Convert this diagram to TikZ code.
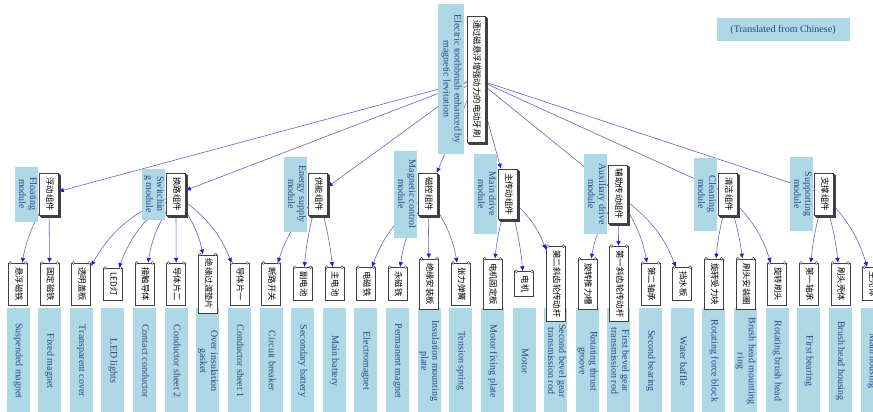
\documentclass[tikz,border=0pt]{standalone}
\usepackage{fontspec}
\setmainfont{Liberation Serif}
\newfontfamily\cjk{Noto Sans CJK SC}
\usetikzlibrary{positioning}
\usetikzlibrary{arrows.meta}
\usetikzlibrary{shadows}
\usetikzlibrary{backgrounds}
\definecolor{lnblue}{RGB}{100,100,205}
\definecolor{tipblue}{RGB}{25,25,230}
\definecolor{tagfill}{RGB}{173,216,230}
\definecolor{tagtext}{RGB}{40,70,135}
\newcommand{\vt}[1]{\rotatebox{-90}{\begin{tabular}{@{}c@{}}#1\end{tabular}}}
\tikzset{
entag/.style={
  rectangle,
  inner sep=0pt,
  minimum width=23pt,
  fill=tagfill,
  text=tagtext,
  font=\fontsize{10}{11}\selectfont
  },
cnbox/.style={
  rectangle,
  inner xsep=0pt,
  inner ysep=4pt,
  minimum width=19pt,
  draw=black!75,
  fill=white,
  font=\cjk\fontsize{8.4}{9}\selectfont
  },
cnstack/.style={
  cnbox,
  copy shadow={shadow xshift=2pt,shadow yshift=-2pt,draw=black!75,fill=white},
  copy shadow={shadow xshift=1pt,shadow yshift=-1pt,draw=black!75,fill=white}
  },
knob/.style={-,draw=black!75,fill=white,thin},
link/.style={draw=lnblue,semithick}
}

\begin{document}
\begin{tikzpicture}[x=1pt,y=1pt,->,>={Latex[length=5pt,width=4.5pt,color=tipblue]},semithick]
    \useasboundingbox (0,0) rectangle (873,-412);
    % top
    \node[cnstack,minimum width=18pt] (root) at (476,-79) {\vt{通过磁悬浮增强动力的电动牙刷}};
    \node[entag,minimum width=26pt,minimum height=149pt] (rootcap) [left=2pt of root] {\vt{Electric toothbrush enhanced by\\magnetic levitation}};
    \node[entag,minimum width=133pt,minimum height=23pt] (note) at (783,-30) {(Translated from Chinese)};
    % modules
    \node[cnstack] (m1) at (49,-194) {\vt{浮动组件}};
    \node[entag,minimum height=55pt] (mc1) [left=0.5pt of m1] {\vt{Floating\\module}};
    \node[cnstack] (m2) at (176,-194) {\vt{换路组件}};
    \node[entag,minimum height=51pt] (mc2) [left=0.5pt of m2] {\vt{Switchin\\g module}};
    \node[cnstack] (m3) at (318,-194) {\vt{供能组件}};
    \node[entag,minimum height=75pt] (mc3) [left=0.5pt of m3] {\vt{Energy supply\\module}};
    \node[cnstack] (m4) at (428,-194) {\vt{磁控组件}};
    \node[entag,minimum height=87pt] (mc4) [left=0.5pt of m4] {\vt{Magnetic control\\module}};
    \node[cnstack] (m5) at (508,-194) {\vt{主传动组件}};
    \node[entag,minimum height=80pt] (mc5) [left=0.5pt of m5] {\vt{Main drive\\module}};
    \node[cnstack] (m6) at (618,-194) {\vt{辅助传动组件}};
    \node[entag,minimum height=80pt] (mc6) [left=0.5pt of m6] {\vt{Auxiliary drive\\module}};
    \node[cnstack] (m7) at (728,-194) {\vt{清洁组件}};
    \node[entag,minimum height=73pt] (mc7) [left=0.5pt of m7] {\vt{Cleaning\\module}};
    \node[cnstack] (m8) at (824,-194) {\vt{支撑组件}};
    \node[entag,minimum height=74pt] (mc8) [left=0.5pt of m8] {\vt{Supporting\\module}};
    % parts
    \foreach \cn/\en [count=\i] in {
        悬浮磁铁/Suspended magnet, 固定磁铁/Fixed magnet, 透明盖板/Transparent cover,
        LED灯/LED lights, 接触导体/Contact conductor, 导体片二/Conductor sheet 2,
        绝缘过渡垫片/Over insulation\\gasket, 导体片一/Conductor sheet 1,
        断路开关/Circuit breaker, 副电池/Secondary battery, 主电池/Main battery,
        电磁铁/Electromagnet, 永磁铁/Permanent magnet, 绝缘安装板/Insulation mounting\\plate,
        张力弹簧/Tension spring, 电机固定板/Motor fixing plate, 电机/Motor,
        第二斜齿轮传动杆/Second bevel gear\\transmission rod, 旋转推力槽/Rotating thrust\\groove,
        第一斜齿轮传动杆/First bevel gear\\transmission rod, 第二轴承/Second bearing,
        挡水板/Water baffle, 旋转受力块/Rotating force block, 刷头安装圈/Brush head mounting\\ring,
        旋转刷头/Rotating brush head, 第一轴承/First bearing, 刷头壳体/Brush head housing,
        主壳体/Main housing}{
      \pgfmathsetmacro{\px}{18+(\i-1)*31.63}
      \node[entag,minimum height=106pt] (pc\i) at (\px,-361) {\vt{\en}};
      \node[cnbox] (p\i) at (\px,-284) {\vt{\cn}};
      \draw[knob] ([xshift=2pt]p\i.north west) circle[radius=1.4pt]
                  ([xshift=-2pt]p\i.north east) circle[radius=1.4pt];
    }
    % links
    \begin{scope}[on background layer]
    \path[->,every edge/.style=link]
    (root) edge (m1) (root) edge (m2) (root) edge (m3) (root) edge (m4)
    (root) edge (m5) (root) edge (m6) (root) edge (m7) (root) edge (m8)
    (m1) edge [bend right=8] (p1)
    (m1) edge (p2)
    (m2) edge [bend right=18] (p3)
    (m2) edge [bend right=15] (p4)
    (m2) edge [bend right=10] (p5)
    (m2) edge (p6)
    (m2) edge [bend left=10] (p7)
    (m2) edge [bend left=15] (p8)
    (m3) edge [bend right=10] (p9)
    (m3) edge [bend right=4] (p10)
    (m3) edge [bend left=4] (p11)
    (m4) edge [bend right=15] (p12)
    (m4) edge [bend right=10] (p13)
    (m4) edge (p14)
    (m4) edge [bend left=10] (p15)
    (m5) edge [bend right=4] (p16)
    (m5) edge [bend left=4] (p17)
    (m5) edge [bend left=12] (p18)
    (m6) edge [bend right=10] (p19)
    (m6) edge (p20)
    (m6) edge [bend left=10] (p21)
    (m6) edge [bend left=15] (p22)
    (m7) edge [bend right=4] (p23)
    (m7) edge [bend left=4] (p24)
    (m7) edge [bend left=12] (p25)
    (m8) edge [bend right=4] (p26)
    (m8) edge [bend left=4] (p27)
    (m8) edge [bend left=12] (p28)
    ;
    \end{scope}
\end{tikzpicture}
\end{document}
